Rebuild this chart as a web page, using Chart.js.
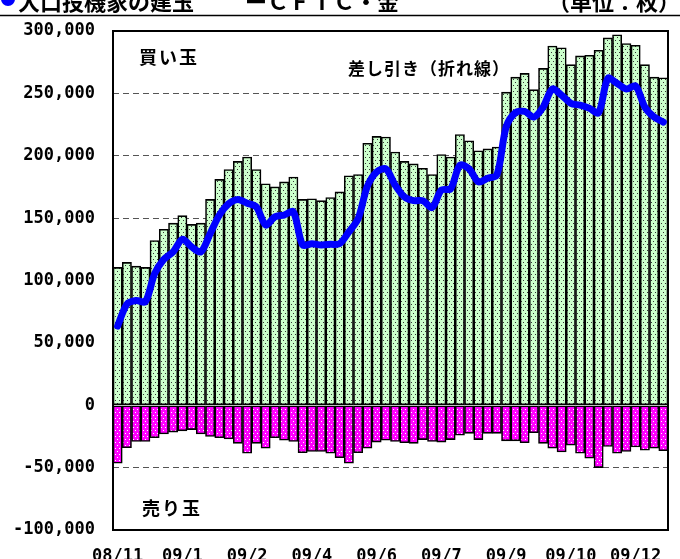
<!DOCTYPE html>
<html lang="ja">
<head>
    <meta charset="UTF-8">
    <title>買い玉・売り玉の推移</title>
    <script src="https://cdn.jsdelivr.net/npm/chart.js"></script>
    <style>
        body { margin: 0; background: #fff; overflow: hidden; }
        canvas { display: block; }
    </style>
</head>
<body>
    <canvas id="grafico" width="680" height="559"></canvas>

    <script>
        // ticks every 7 weeks
        const tickLabels = ['08/11', '09/1', '09/2', '09/4', '09/6', '09/7', '09/9', '09/10', '09/12'];
        const tickStep = 7;

        // 買い玉 (weekly)
        const buy = [
            110500, 114500, 111500, 110500, 132000, 141000, 146000, 152000, 145000, 146000,
            165000, 181000, 189000, 195500, 199000, 189000, 177500, 175000, 179000, 183000,
            165000, 165500, 164000, 166500, 171000, 184000, 185000, 210000, 215500, 215000,
            203000, 195500, 193500, 190000, 185000, 201000, 199000, 217000, 212000, 204000,
            205500, 207000, 251000, 263000, 266000, 253000, 270000, 288000, 286500, 273000,
            280000, 280500, 284500, 294500, 297000, 290000, 288500, 273000, 263000, 262500
        ];
        // 売り玉
        const sell = [
            -46500, -34000, -29000, -29000, -26000, -23000, -21500, -20500, -19500, -23000,
            -25000, -26000, -27000, -30500, -38500, -30500, -34500, -26000, -28000, -29000,
            -38000, -37000, -37000, -38500, -42000, -46500, -38000, -34500, -29500, -28000,
            -29000, -30000, -30500, -27500, -29000, -29500, -27500, -24000, -22500, -27500,
            -22500, -22500, -28500, -28500, -30000, -22000, -30500, -34500, -37500, -32000,
            -38500, -42500, -50000, -33000, -38500, -37000, -33500, -36000, -34500, -36500
        ];
        // 差し引き（折れ線）
        const net = [
            63500, 81000, 84000, 83000, 105500, 117000, 123000, 133000, 127000, 123000,
            137500, 152500, 161500, 165000, 162000, 159000, 144500, 151000, 152500, 155000,
            128500, 129500, 128500, 129000, 129500, 139000, 149500, 175500, 187000, 189500,
            176500, 167000, 164000, 164000, 158500, 172500, 173500, 192500, 189500, 179000,
            182000, 184500, 223000, 234500, 235500, 231000, 239000, 253500, 248500, 242000,
            240500, 238000, 234500, 262000, 258000, 253500, 256000, 239000, 231000, 227000
        ];

        const labels = buy.map((v, i) => i % tickStep === 0 ? (tickLabels[i / tickStep] || '') : '');

        function dots(bg, dot) {
            let c = document.createElement('canvas');
            c.width = 4; c.height = 6;
            let g = c.getContext('2d');
            g.fillStyle = bg; g.fillRect(0, 0, 4, 6);
            g.fillStyle = dot;
            g.fillRect(1, 1, 1, 1);
            g.fillRect(3, 4, 1, 1);
            return g.createPattern(c, 'repeat');
        }

        const monoFont = { family: '"DejaVu Sans Mono", monospace', size: 17, weight: 'bold' };

        const overlay = {
            id: 'overlay',
            afterDraw(chart) {
                let ctx = chart.ctx, a = chart.chartArea;
                ctx.save();
                ctx.strokeStyle = '#000';
                ctx.lineWidth = 2;
                ctx.strokeRect(a.left, a.top, a.right - a.left, a.bottom - a.top);

                ctx.fillStyle = '#000';
                ctx.textBaseline = 'middle';
                ctx.font = 'bold 18px "Noto Sans CJK JP"';
                ctx.letterSpacing = '2px';
                ctx.fillText('買い玉', 139, 57);
                ctx.fillText('売り玉', 142, 508);
                ctx.font = 'bold 17px "Noto Sans CJK JP"';
                ctx.letterSpacing = '1px';
                ctx.fillText('差し引き（折れ線）', 348, 69);

                // header (cut off at the top)
                ctx.letterSpacing = '0px';
                ctx.textBaseline = 'alphabetic';
                ctx.fillStyle = '#0000ff';
                ctx.beginPath();
                ctx.arc(8, -1, 7, 0, Math.PI * 2);
                ctx.fill();
                ctx.fillStyle = '#000';
                ctx.font = 'bold 22px "Noto Sans CJK JP"';
                ctx.fillText('大口投機家の建玉', 18, 10);
                ctx.fillText('ーＣＦＴＣ・金', 245, 10);
                ctx.fillText('（単位：枚）', 548, 10);
                ctx.lineWidth = 1.5;
                ctx.beginPath();
                ctx.moveTo(0, 15.5);
                ctx.lineTo(680, 15.5);
                ctx.stroke();
                ctx.restore();
            }
        };

        let ctx = document.getElementById('grafico').getContext('2d');
        let chart = new Chart(ctx, {
            type: 'bar',
            data: {
                labels: labels,
                datasets: [
                    {
                        type: 'line',
                        label: '差し引き',
                        data: net,
                        borderColor: '#0000ff',
                        borderWidth: 7,
                        tension: 0.3,
                        pointRadius: 0,
                        borderJoinStyle: 'round',
                        borderCapStyle: 'round',
                        fill: false,
                        order: 0
                    },
                    {
                        label: '買い玉',
                        data: buy,
                        backgroundColor: dots('#ccffcc', '#333333'),
                        borderColor: '#000',
                        borderWidth: 1.6,
                        borderSkipped: false,
                        barPercentage: 1,
                        categoryPercentage: 1,
                        order: 1
                    },
                    {
                        label: '売り玉',
                        data: sell,
                        backgroundColor: dots('#ff00ff', '#ffffff'),
                        borderColor: '#000',
                        borderWidth: 1.6,
                        borderSkipped: false,
                        barPercentage: 1,
                        categoryPercentage: 1,
                        order: 1
                    }
                ]
            },
            options: {
                responsive: false,
                animation: false,
                layout: { padding: { top: 31, right: 12, left: 0, bottom: 0 } },
                scales: {
                    x: {
                        stacked: true,
                        grid: { display: false, drawTicks: false },
                        border: { display: false },
                        ticks: {
                            autoSkip: false,
                            maxRotation: 0,
                            padding: 16,
                            color: '#000',
                            font: monoFont
                        },
                        afterFit: function (s) { s.height = 29; }
                    },
                    y: {
                        min: -100000,
                        max: 300000,
                        grid: {
                            drawTicks: false,
                            color: function (c) {
                                let v = c.tick.value;
                                return (v === 300000 || v === -100000 || v === 0) ? 'rgba(0,0,0,0)' : '#555';
                            },
                            lineWidth: 1
                        },
                        border: { display: false, dash: [6, 4] },
                        ticks: {
                            stepSize: 50000,
                            padding: 18,
                            color: '#000',
                            font: monoFont,
                            callback: function (v) { return v.toLocaleString('en-US'); }
                        },
                        afterFit: function (s) { s.width = 113; }
                    }
                },
                plugins: {
                    legend: { display: false },
                    tooltip: { enabled: false }
                }
            },
            plugins: [overlay]
        });
    </script>
</body>
</html>
